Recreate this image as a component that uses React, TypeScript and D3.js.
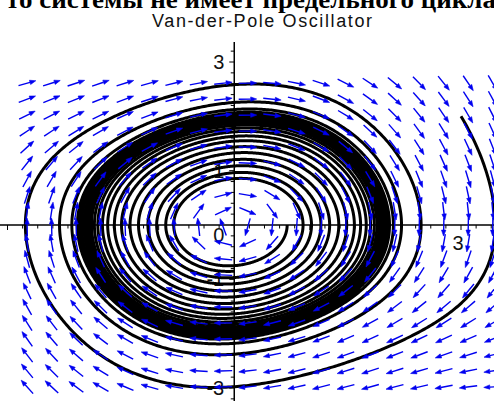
import React from 'react';
import * as d3 from 'd3';

const W = 494;
const H = 401;

// Van der Pol parameter and initial conditions
const muValue = [0.1];
const initX = [3.0, 0.7, 0.0];
const initY = [2.0, 0.0, -0.85];
const tSpan = [40, 70, 60];

// direction field grid (20 x 20)
const fieldXExtent = [-2.74, 3.42];
const fieldYExtent = [-2.98, 2.61];
const fieldCount = [20, 20];

// axis labels
const xLabelValues = [3];
const yLabelValues = [3, 1, -1, -3];

const headerText = 'то системы не имеет предельного цикла';
const titleText = 'Van-der-Pole Oscillator';

function deriv(x: number, y: number, mu: number): [number, number] {
  return [y, -x + mu * (1 - x * x) * y];
}

function integrate(x0: number, y0: number, T: number, mu: number, dt = 0.01) {
  const pts: [number, number][] = [[x0, y0]];
  let x = x0;
  let y = y0;
  const n = Math.round(T / dt);
  for (let i = 0; i < n; i++) {
    const k1 = deriv(x, y, mu);
    const k2 = deriv(x + (dt / 2) * k1[0], y + (dt / 2) * k1[1], mu);
    const k3 = deriv(x + (dt / 2) * k2[0], y + (dt / 2) * k2[1], mu);
    const k4 = deriv(x + dt * k3[0], y + dt * k3[1], mu);
    x += (dt / 6) * (k1[0] + 2 * k2[0] + 2 * k3[0] + k4[0]);
    y += (dt / 6) * (k1[1] + 2 * k2[1] + 2 * k3[1] + k4[1]);
    pts.push([x, y]);
  }
  return pts;
}

export default function App() {
  const mu = muValue[0];
  const xs = d3.scaleLinear().domain([-3, 3]).range([7.5, 461]);
  const ys = d3.scaleLinear().domain([-3, 3]).range([388, 62]);
  const x0 = xs(0);
  const y0 = ys(0);

  const line = d3
    .line<[number, number]>()
    .x((d) => xs(d[0]))
    .y((d) => ys(d[1]))
    .curve(d3.curveLinear);

  const trajectories = initX.map((ix, i) => integrate(ix, initY[i], tSpan[i], mu));

  const gx = d3.range(fieldCount[0]).map(
    (i) => fieldXExtent[0] + (i * (fieldXExtent[1] - fieldXExtent[0])) / (fieldCount[0] - 1)
  );
  const gy = d3.range(fieldCount[1]).map(
    (j) => fieldYExtent[0] + (j * (fieldYExtent[1] - fieldYExtent[0])) / (fieldCount[1] - 1)
  );

  const L = 18;
  const arrows: React.ReactNode[] = [];
  gx.forEach((vx, i) => {
    gy.forEach((vy, j) => {
      const [dx, dy] = deriv(vx, vy, mu);
      const px = dx * (xs(1) - xs(0));
      const py = dy * (ys(1) - ys(0));
      const len = Math.hypot(px, py) || 1;
      const ux = px / len;
      const uy = py / len;
      const cx = xs(vx);
      const cy = ys(vy);
      const x1 = cx - (ux * L) / 2;
      const y1 = cy - (uy * L) / 2;
      const x2 = cx + (ux * L) / 2;
      const y2 = cy + (uy * L) / 2;
      const hl = 6;
      const hw = 2.2;
      const bx = x2 - ux * hl;
      const by = y2 - uy * hl;
      const head = `M${x2},${y2}L${bx - uy * hw},${by + ux * hw}L${bx + uy * hw},${by - ux * hw}Z`;
      arrows.push(
        <g key={`a${i}-${j}`}>
          <line x1={x1} y1={y1} x2={bx} y2={by} stroke="#0000f0" strokeWidth={1.4} />
          <path d={head} fill="#0000f0" stroke="#0000f0" strokeWidth={0.6} />
        </g>
      );
    });
  });

  const xTicks = d3.range(-15, 18).map((k) => k * 0.2);
  const yTicks = d3.range(-16, 17).map((k) => k * 0.2).filter((v) => ys(v) >= 44 && ys(v) <= 400);

  return (
    <svg
      width={W}
      height={H}
      style={{ position: 'absolute', left: 0, top: 0, background: '#fff' }}
      xmlns="http://www.w3.org/2000/svg"
    >
      <defs>
        <clipPath id="plotClip">
          <rect x={0} y={40} width={W} height={H - 40} />
        </clipPath>
      </defs>
      <rect x={0} y={0} width={W} height={H} fill="#fff" />
      <text
        x={6}
        y={8}
        fontFamily="'Liberation Serif', 'Times New Roman', serif"
        fontWeight="bold"
        fontSize={25}
        textLength={490}
        lengthAdjust="spacingAndGlyphs"
        fill="#000"
      >
        {headerText}
      </text>
      <text
        x={262}
        y={27}
        textAnchor="middle"
        fontFamily="'Liberation Sans', Arial, sans-serif"
        fontSize={18}
        textLength={220}
        fill="#111"
      >
        {titleText}
      </text>

      {/* axes */}
      <line x1={0} y1={y0} x2={W} y2={y0} stroke="#000" strokeWidth={1.5} />
      <line x1={x0} y1={42} x2={x0} y2={H} stroke="#000" strokeWidth={1.5} />
      {xTicks.map((v, i) => (
        <line
          key={`xt${i}`}
          x1={xs(v)}
          x2={xs(v)}
          y1={y0}
          y2={y0 + (Math.abs(v - Math.round(v)) < 1e-6 && v !== 0 ? 5 : 3.5)}
          stroke="#000"
          strokeWidth={1}
        />
      ))}
      {yTicks.map((v, i) => (
        <line
          key={`yt${i}`}
          x1={x0 - (Math.abs(v - Math.round(v)) < 1e-6 && Math.round(v) !== 0 ? 5 : 3.5)}
          x2={x0}
          y1={ys(v)}
          y2={ys(v)}
          stroke="#000"
          strokeWidth={1}
        />
      ))}
      {xLabelValues.map((v) => (
        <text
          key={`xl${v}`}
          x={xs(v) - 3}
          y={y0 + 25}
          textAnchor="middle"
          fontFamily="'Liberation Sans', Arial, sans-serif"
          fontSize={20}
          fill="#111"
        >
          {v}
        </text>
      ))}
      {yLabelValues.map((v) => (
        <text
          key={`yl${v}`}
          x={x0 - 10}
          y={ys(v) + 7}
          textAnchor="end"
          fontFamily="'Liberation Sans', Arial, sans-serif"
          fontSize={20}
          fill="#111"
        >
          {v < 0 ? `-${Math.abs(v)}` : v}
        </text>
      ))}
      <text
        x={x0 - 10}
        y={y0 + 17}
        textAnchor="end"
        fontFamily="'Liberation Sans', Arial, sans-serif"
        fontSize={20}
        fill="#111"
      >
        0
      </text>

      <g clipPath="url(#plotClip)">
        {trajectories.map((pts, i) => (
          <path
            key={`tr${i}`}
            d={line(pts) || ''}
            fill="none"
            stroke="#000"
            strokeWidth={3}
            strokeLinejoin="round"
          />
        ))}
        {arrows}
      </g>
    </svg>
  );
}
